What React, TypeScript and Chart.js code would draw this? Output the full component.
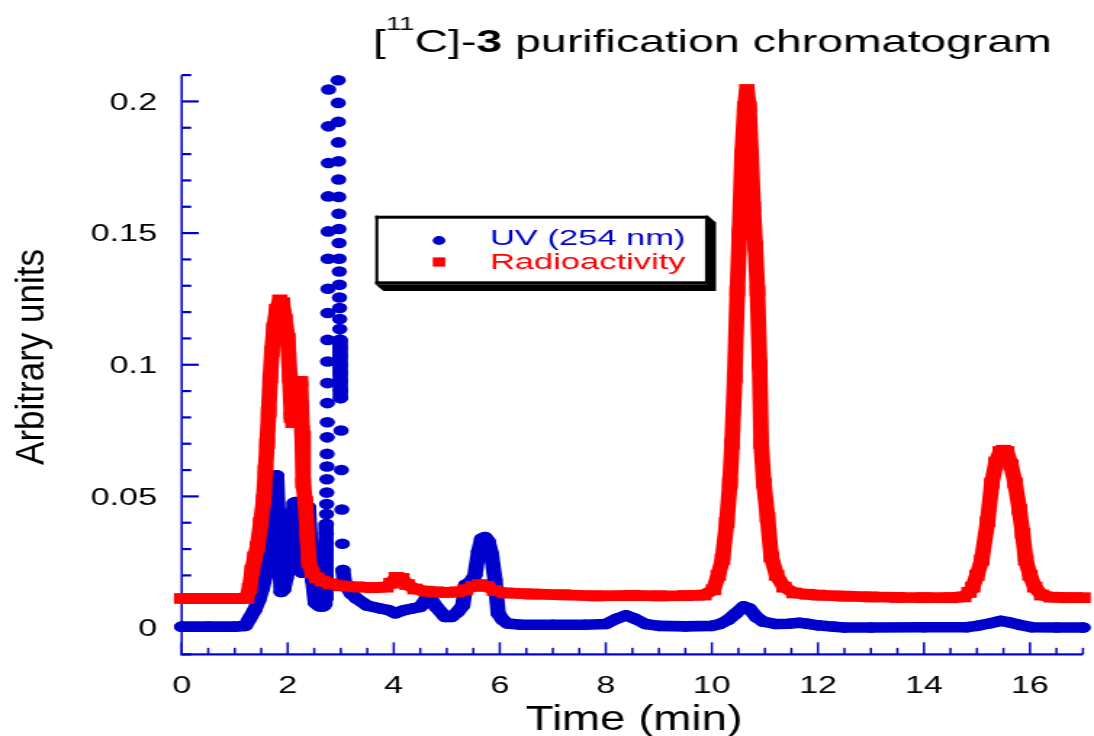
import React, { useEffect, useRef } from 'react';
import { Chart, registerables } from 'chart.js';

Chart.register(...registerables);

// The reference figure is horizontally stretched; the chart is drawn on a narrower
// canvas that the page then displays at full width.
const PAGE_W = 1094;
const PAGE_H = 736;
const CANVAS_W = 754;
const S = PAGE_W / CANVAS_W;

const BLUE = '#0000cc';
const RED = '#ff0000';
const FONT = '"Liberation Sans", Arial, Helvetica, sans-serif';

const titleText = ['[', '11', 'C]-', '3', ' purification chromatogram'];
const xAxisTitle = 'Time (min)';
const yAxisTitle = 'Arbitrary units';
const uvLabel = 'UV (254 nm)';
const radLabel = 'Radioactivity';

const xTickValues = [0, 2, 4, 6, 8, 10, 12, 14, 16];
const xTickLabels = ['0', '2', '4', '6', '8', '10', '12', '14', '16'];
const yTickValues = [0, 0.05, 0.1, 0.15, 0.2];
const yTickLabels = ['0', '0.05', '0.1', '0.15', '0.2'];

// UV (254 nm) trace: time (min) and absorbance (arbitrary units).
// null = off-scale top of the 3 min peak.
const uvTime = [
  0, 0.5, 1.0, 1.2, 1.28, 1.375, 1.45, 1.52, 1.59, 1.65, 1.7, 1.735, 1.77, 1.79, 1.815, 1.845,
  1.875, 1.92, 1.97, 2.03, 2.08, 2.12, 2.15, 2.19, 2.23, 2.27, 2.32, 2.36, 2.39, 2.43, 2.47, 2.52,
  2.6, 2.67, 2.7, 2.704, 2.708, 2.712, 2.716, 2.72, 2.722, 2.724, 2.726, 2.728, 2.73, 2.732, 2.734,
  2.736, 2.738, 2.74, 2.742, 2.744, 2.746, 2.748, 2.75, 2.752, 2.754, 2.756, 2.758, 2.76, 2.762,
  2.764, 2.766, 2.768, 2.77, 2.86, 2.95, 2.952, 2.954, 2.956, 2.958, 2.96, 2.962, 2.964, 2.966,
  2.968, 2.97, 2.972, 2.974, 2.976, 2.978, 2.98, 2.982, 2.984, 2.986, 2.988, 2.99, 2.992, 2.994,
  2.996, 2.998, 3.005, 3.012, 3.02, 3.03, 3.04, 3.07, 3.12, 3.2, 3.3, 3.5, 3.75, 3.9, 4.03, 4.2,
  4.35, 4.5, 4.62, 4.7, 4.8, 4.97, 5.09, 5.2, 5.3, 5.36, 5.45, 5.53, 5.6, 5.66, 5.72, 5.78, 5.84,
  5.91, 5.97, 6.06, 6.15, 6.4, 7.0, 7.6, 8.0, 8.2, 8.38, 8.55, 8.75, 9.0, 9.5, 10.0, 10.15, 10.3,
  10.45, 10.6, 10.7, 10.85, 10.97, 11.2, 11.45, 11.65, 11.8, 12.0, 12.3, 12.5, 13.0, 14.0, 14.8,
  15.0, 15.25, 15.45, 15.6, 15.8, 16.03, 16.5, 17.0,
];
const uvValue = [
  0.0005, 0.0005, 0.0005, 0.0008, 0.0036, 0.0068, 0.0105, 0.015, 0.0207, 0.0265, 0.033, 0.045,
  0.057, 0.058, 0.045, 0.028, 0.0137, 0.0145, 0.019, 0.0245, 0.037, 0.0475, 0.0478, 0.038, 0.027,
  0.021, 0.03, 0.046, 0.046, 0.032, 0.018, 0.0095, 0.0082, 0.0082, 0.009, 0.011, 0.0135, 0.016,
  0.019, 0.0226, 0.0258, 0.0289, 0.0324, 0.0359, 0.0395, 0.0433, 0.0471, 0.0514, 0.0565, 0.0613,
  0.0661, 0.0724, 0.0781, 0.0854, 0.093, 0.1012, 0.1094, 0.1196, 0.1288, 0.1402, 0.1506, 0.1639,
  0.1766, 0.1905, 0.2045, null, 0.208, 0.1994, 0.1922, 0.1844, 0.1772, 0.1703, 0.1637, 0.1573,
  0.1515, 0.1462, 0.1402, 0.1354, 0.1303, 0.1255, 0.1215, 0.1173, 0.1135, 0.1094, 0.1063, 0.1031,
  0.0999, 0.0968, 0.0936, 0.0904, 0.0873, 0.075, 0.06, 0.045, 0.032, 0.022, 0.0175, 0.0155, 0.013,
  0.0112, 0.0085, 0.0074, 0.0068, 0.0056, 0.0068, 0.0074, 0.008, 0.0112, 0.011, 0.008, 0.0042,
  0.0042, 0.006, 0.0085, 0.0165, 0.0175, 0.02, 0.029, 0.034, 0.0345, 0.033, 0.0283, 0.0182, 0.0055,
  0.003, 0.0017, 0.0012, 0.0012, 0.0012, 0.0015, 0.0035, 0.0048, 0.0035, 0.0015, 0.0008, 0.0006,
  0.0008, 0.0015, 0.003, 0.0055, 0.0082, 0.0075, 0.004, 0.0024, 0.0015, 0.0016, 0.002, 0.0016,
  0.001, 0.0005, 0.0002, 0.0002, 0.0003, 0.0003, 0.0008, 0.0018, 0.0027, 0.0022, 0.0012, 0.0003,
  0.0002, 0.0002,
];

// Radioactivity trace: time (min) and counts (arbitrary units).
const radTime = [
  0, 0.5, 1.0, 1.22, 1.28, 1.33, 1.38, 1.43, 1.49, 1.545, 1.58, 1.61, 1.64, 1.67, 1.7, 1.74, 1.79,
  1.85, 1.9, 1.95, 2.0, 2.04, 2.07, 2.1, 2.14, 2.2, 2.24, 2.27, 2.29, 2.33, 2.37, 2.4, 2.46, 2.55,
  2.65, 2.8, 3.0, 3.3, 3.6, 3.85, 3.95, 4.05, 4.15, 4.25, 4.4, 4.6, 4.8, 5.0, 5.2, 5.35, 5.5, 5.62,
  5.75, 5.9, 6.1, 6.6, 7.2, 7.8, 8.5, 9.0, 9.5, 9.85, 10.03, 10.12, 10.2, 10.28, 10.34, 10.38, 10.43,
  10.48, 10.52, 10.57, 10.62, 10.66, 10.7, 10.74, 10.78, 10.82, 10.86, 10.9, 10.93, 10.98, 11.05,
  11.12, 11.22, 11.36, 11.55, 11.8, 12.0, 12.5, 13.0, 13.5, 14.0, 14.5, 14.75, 14.85, 14.92, 15.0,
  15.09, 15.2, 15.28, 15.36, 15.44, 15.5, 15.56, 15.64, 15.72, 15.8, 15.86, 15.92, 16.0, 16.09,
  16.22, 16.4, 16.7, 17.0,
];
const radValue = [
  0.0112, 0.0112, 0.0112, 0.0112, 0.015, 0.022, 0.027, 0.031, 0.04, 0.0486, 0.06, 0.07, 0.082,
  0.095, 0.105, 0.114, 0.121, 0.1246, 0.1235, 0.117, 0.11, 0.095, 0.08, 0.078, 0.085, 0.0936,
  0.0936, 0.075, 0.055, 0.048, 0.035, 0.025, 0.021, 0.019, 0.0178, 0.0168, 0.016, 0.0156, 0.0153,
  0.0155, 0.017, 0.0192, 0.0188, 0.0165, 0.0148, 0.014, 0.0137, 0.0135, 0.0137, 0.0145, 0.0158,
  0.0165, 0.0158, 0.0142, 0.0133, 0.0129, 0.0126, 0.0122, 0.0124, 0.0122, 0.0123, 0.0125, 0.0145,
  0.02, 0.026, 0.04, 0.055, 0.07, 0.095, 0.128, 0.15, 0.18, 0.198, 0.2045, 0.198, 0.18, 0.16, 0.145,
  0.128, 0.1, 0.07, 0.055, 0.042, 0.027, 0.02, 0.0155, 0.0133, 0.0128, 0.0125, 0.0121, 0.0118,
  0.0116, 0.0115, 0.0115, 0.0118, 0.0135, 0.0155, 0.02, 0.0258, 0.0404, 0.055, 0.063, 0.067,
  0.0675, 0.067, 0.062, 0.055, 0.045, 0.036, 0.0258, 0.02, 0.0155, 0.0125, 0.0117, 0.0115, 0.0115,
];

function drawText(
  ctx: CanvasRenderingContext2D,
  s: string,
  x: number,
  y: number,
  font: string,
  color: string,
  align: CanvasTextAlign,
  sx = 1
) {
  ctx.save();
  ctx.translate(x, y);
  ctx.scale(sx, 1);
  ctx.font = font;
  ctx.fillStyle = color;
  ctx.textAlign = align;
  ctx.textBaseline = 'alphabetic';
  ctx.fillText(s, 0, 0);
  ctx.restore();
}

const decorPlugin = {
  id: 'decor',
  beforeDatasetsDraw(chart: any) {
    const { ctx, chartArea: a, scales } = chart;
    const x = scales.x;
    const y = scales.y;
    const lw = 2.2 / S;
    ctx.save();
    ctx.fillStyle = BLUE;
    ctx.fillRect(a.left - lw / 2, a.top, lw, a.bottom - a.top + 1);
    ctx.fillRect(a.left - lw / 2, a.bottom - 1, a.right - a.left + lw / 2, 2.2);
    for (let i = -1; i <= 21; i++) {
      const py = y.getPixelForValue(i / 100);
      const len = (i % 5 === 0 ? 17 : 9.5) / S;
      ctx.fillRect(a.left, py - 1, len, 2.2);
    }
    for (let i = 0; i <= 34; i++) {
      const px = x.getPixelForValue(i / 2);
      const len = i % 4 === 0 ? 12 : 6.5;
      ctx.fillRect(px - lw / 2, a.bottom - len, lw, len);
    }
    ctx.restore();
  },
  afterDraw(chart: any) {
    const { ctx, scales } = chart;
    const x = scales.x;
    const y = scales.y;
    ctx.save();
    // tick labels
    yTickValues.forEach((v, i) => {
      drawText(ctx, yTickLabels[i], 157 / S, y.getPixelForValue(v) + 8.4, `23.5px ${FONT}`, '#000', 'right');
    });
    xTickValues.forEach((t, i) => {
      drawText(ctx, xTickLabels[i], x.getPixelForValue(t), 693, `23.5px ${FONT}`, '#000', 'center');
    });
    // axis titles
    drawText(ctx, xAxisTitle, 634 / S, 730, `35px ${FONT}`, '#000', 'center', 0.9);
    ctx.save();
    ctx.translate(33 / S, 357);
    ctx.scale(0.8, 1);
    ctx.rotate(-Math.PI / 2);
    ctx.font = `35px ${FONT}`;
    ctx.fillStyle = '#000';
    ctx.textAlign = 'center';
    ctx.textBaseline = 'middle';
    ctx.fillText(yAxisTitle, 0, 0);
    ctx.restore();
    // title
    let cx = 373 / S;
    const base = 52;
    ctx.fillStyle = '#000';
    ctx.textAlign = 'left';
    ctx.textBaseline = 'alphabetic';
    const parts: [string, string, number][] = [
      [titleText[0], `32px ${FONT}`, base],
      [titleText[1], `19px ${FONT}`, 30],
      [titleText[2], `32px ${FONT}`, base],
      [titleText[3], `bold 32px ${FONT}`, base],
      [titleText[4], `32px ${FONT}`, base],
    ];
    parts.forEach(([s, f, by]) => {
      ctx.font = f;
      ctx.fillText(s, cx, by);
      cx += ctx.measureText(s).width;
    });
    // legend
    const L = 375.3 / S;
    const R = 708 / S;
    const T = 215.7;
    const B = 284.3;
    const dx = 8 / S;
    const dy = 6.7;
    ctx.fillStyle = '#000';
    ctx.beginPath();
    ctx.moveTo(R, T);
    ctx.lineTo(R + dx, T + dy);
    ctx.lineTo(R + dx, B + dy);
    ctx.lineTo(L + dx, B + dy);
    ctx.lineTo(L, B);
    ctx.closePath();
    ctx.fill();
    ctx.fillStyle = '#fff';
    ctx.fillRect(L, T, R - L, B - T);
    ctx.fillStyle = '#000';
    const bh = 3;
    const bw = 3 / S;
    ctx.fillRect(L, T, R - L, bh);
    ctx.fillRect(L, B - bh, R - L, bh);
    ctx.fillRect(L, T, bw, B - T);
    ctx.fillRect(R - bw, T, bw, B - T);
    ctx.fillStyle = BLUE;
    ctx.beginPath();
    ctx.arc(439 / S, 240.5, 4.4, 0, Math.PI * 2);
    ctx.fill();
    ctx.fillStyle = RED;
    ctx.fillRect(439 / S - 4.3, 262 - 4.6, 8.6, 9.2);
    drawText(ctx, uvLabel, 490 / S, 245, `22px ${FONT}`, BLUE, 'left', 1.08);
    drawText(ctx, radLabel, 490 / S, 269, `22px ${FONT}`, RED, 'left', 1.08);
    ctx.restore();
  },
};

export default function App() {
  const ref = useRef<HTMLCanvasElement | null>(null);
  useEffect(() => {
    document.body.style.margin = '0';
    const canvas = ref.current;
    if (!canvas) return;
    const uvData = uvTime.map((t, i) => ({ x: t, y: uvValue[i] }));
    const radData = radTime.map((t, i) => ({ x: t, y: radValue[i] }));
    const chart = new Chart(canvas, {
      type: 'line',
      data: {
        datasets: [
          {
            label: radLabel,
            data: radData as any,
            order: 0,
            borderColor: RED,
            backgroundColor: RED,
            borderWidth: 10.8,
            borderCapStyle: 'butt',
            borderJoinStyle: 'bevel',
            pointStyle: 'rect',
            pointRadius: 7.6,
            pointBorderWidth: 0,
            pointBackgroundColor: RED,
            pointHoverRadius: 7.6,
            tension: 0,
            clip: false as any,
          },
          {
            label: uvLabel,
            data: uvData as any,
            order: 1,
            borderColor: BLUE,
            backgroundColor: BLUE,
            borderWidth: 10.6,
            borderCapStyle: 'round',
            borderJoinStyle: 'round',
            pointStyle: 'circle',
            pointRadius: 5.3,
            pointBorderWidth: 0,
            pointBackgroundColor: BLUE,
            pointHoverRadius: 5.3,
            tension: 0,
            spanGaps: false,
            clip: false as any,
            segment: {
              borderColor: (c: any) =>
                Math.abs(c.p1.x - c.p0.x) < 0.5 && Math.abs(c.p1.y - c.p0.y) > 10
                  ? 'rgba(0,0,0,0)'
                  : undefined,
            },
          },
        ],
      },
      options: {
        responsive: false,
        devicePixelRatio: 1,
        animation: false,
        events: [],
        layout: { padding: { left: 181.7 / S, right: CANVAS_W - 1088 / S, top: 75, bottom: PAGE_H - 654.3 } },
        scales: {
          x: { type: 'linear', min: 0, max: 17, display: false },
          y: { type: 'linear', min: -0.01, max: 0.21, display: false },
        },
        plugins: { legend: { display: false }, tooltip: { enabled: false }, title: { display: false } },
      },
      plugins: [decorPlugin],
    });
    return () => chart.destroy();
  }, []);
  return (
    <div style={{ width: PAGE_W, height: PAGE_H }}>
      <canvas
        ref={ref}
        width={CANVAS_W}
        height={PAGE_H}
        style={{ width: `${PAGE_W}px`, height: `${PAGE_H}px`, display: 'block' }}
      />
    </div>
  );
}
